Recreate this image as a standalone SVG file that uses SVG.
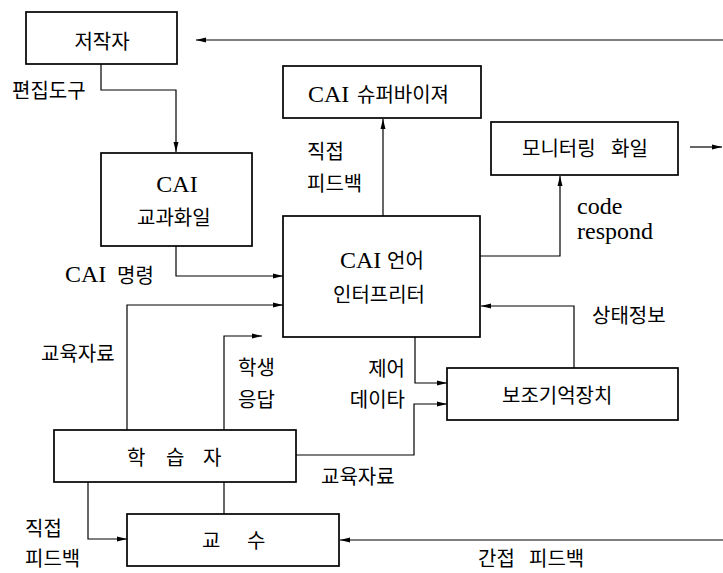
<svg xmlns="http://www.w3.org/2000/svg" width="723" height="573" viewBox="0 0 723 573">
<defs>
<marker id="ah" markerUnits="userSpaceOnUse" markerWidth="12" markerHeight="8" refX="10" refY="4" orient="auto">
<path d="M0,1.5 L10,4 L0,6.5 Z" fill="#000"/>
</marker>
<style>
.box{fill:#fff;stroke:#000;stroke-width:1.7}
.ln{fill:none;stroke:#000;stroke-width:1.2}
.ar{fill:none;stroke:#000;stroke-width:1.2;marker-end:url(#ah)}
.k{font-family:'Noto Sans CJK KR','Liberation Serif',sans-serif;font-size:20px;fill:#000}
.l{font-family:'Liberation Serif','DejaVu Serif',serif;font-size:24px;fill:#000}
.c{text-anchor:middle}
.e{text-anchor:end}
</style>
</defs>
<rect width="723" height="573" fill="#fff"/>
<g id="connectors">
<path class="ar" d="M723,40 H196"/>
<path class="ar" d="M101,64 V90 H176 V152"/>
<path class="ar" d="M176,246 V276 H283"/>
<path class="ar" d="M127,430 V305 H283"/>
<path class="ar" d="M224,430 V336 H262"/>
<path class="ar" d="M383,216 V119"/>
<path class="ar" d="M480,256 H560 V176"/>
<path class="ar" d="M690,147 H722"/>
<path class="ar" d="M574,368 V306 H481"/>
<path class="ar" d="M415,337 V383 H447"/>
<path class="ar" d="M296,455 H414 V404 H447"/>
<path class="ln" d="M224,482 V514"/>
<path class="ar" d="M88,482 V539 H127"/>
<path class="ar" d="M723,540 H340"/>
</g>
<g id="labels">
<text class="k" x="12" y="98">편집도구</text>
<text class="l" x="65" y="282">CAI</text>
<text class="k" x="117" y="283">명령</text>
<text class="k" x="41" y="361">교육자료</text>
<text class="k" x="238" y="375">학생</text>
<text class="k" x="238" y="407">응답</text>
<text class="k" x="307" y="159">직접</text>
<text class="k" x="307" y="191">피드백</text>
<text class="l" x="577" y="214">code</text>
<text class="l" x="577" y="239">respond</text>
<text class="k" x="592" y="323">상태정보</text>
<text class="k e" x="405" y="376">제어</text>
<text class="k e" x="405" y="407">데이타</text>
<text class="k" x="321" y="484">교육자료</text>
<text class="k" x="25" y="536">직접</text>
<text class="k" x="25" y="566">피드백</text>
<text class="k" x="478" y="566">간접</text>
<text class="k" x="529" y="566">피드백</text>
</g>
<g id="n-author">
<rect class="box" x="26" y="12" width="151" height="52"/>
<text class="k c" x="102" y="49">저작자</text>
</g>
<g id="n-course">
<rect class="box" x="101" y="153" width="151" height="93"/>
<text class="l c" x="177" y="192">CAI</text>
<text class="k" x="137" y="225">교과화일</text>
</g>
<g id="n-supervisor">
<rect class="box" x="283" y="66" width="198" height="52"/>
<text class="l" x="308" y="102">CAI</text>
<text class="k" x="357" y="102">슈퍼바이져</text>
</g>
<g id="n-monitor">
<rect class="box" x="491" y="122" width="187" height="53"/>
<text class="k" x="522" y="156">모니터링</text>
<text class="k" x="611" y="156">화일</text>
</g>
<g id="n-interpreter">
<rect class="box" x="283" y="216" width="197" height="121"/>
<text class="l" x="340" y="268">CAI</text>
<text class="k" x="387" y="268">언어</text>
<text class="k" x="333" y="302">인터프리터</text>
</g>
<g id="n-storage">
<rect class="box" x="447" y="368" width="231" height="52"/>
<text class="k" x="502" y="403">보조기억장치</text>
</g>
<g id="n-learner">
<rect class="box" x="54" y="430" width="242" height="52"/>
<text class="k" x="127" y="465">학</text>
<text class="k" x="166" y="465">습</text>
<text class="k" x="203" y="465">자</text>
</g>
<g id="n-teacher">
<rect class="box" x="127" y="514" width="212" height="52"/>
<text class="k" x="202" y="548">교</text>
<text class="k" x="247" y="548">수</text>
</g>
</svg>
